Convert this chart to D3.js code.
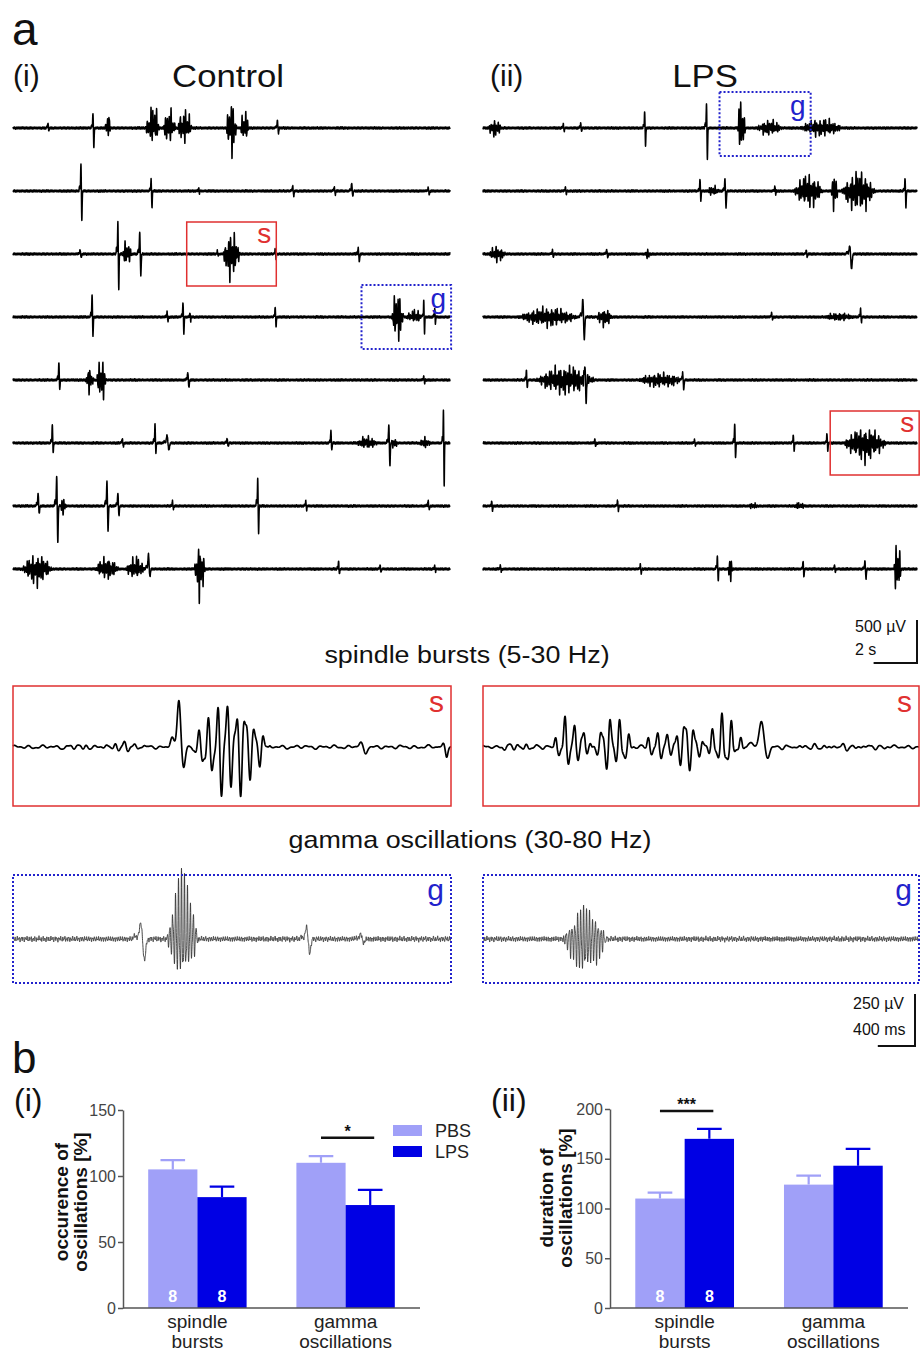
<!DOCTYPE html>
<html>
<head>
<meta charset="utf-8">
<script src="https://cdn.jsdelivr.net/npm/d3@7"></script>
<style>
  body { margin: 0; background: #fff; }
  svg { display: block; }
  text { font-family: "Liberation Sans", Arial, Helvetica, sans-serif; }
</style>
</head>
<body>
<svg id="fig" width="920" height="1351"></svg>
<script>
// ---- panel a: overview traces, one event list per row ----
// event = [time (s), duration (s), peak up (µV), peak down (µV)]
const controlRows = [
  [[1.6, 0.12, 60, 35], [3.66, 0.12, 175, 230], [4.35, 0.3, 230, 90], [6.4, 0.7, 290, 175], [7.15, 0.6, 250, 180], [7.85, 0.7, 270, 160], [10.0, 0.5, 325, 380], [10.6, 0.4, 230, 175], [12.1, 0.15, 90, 60]],
  [[3.11, 0.12, 325, 350], [6.32, 0.12, 140, 200], [8.5, 0.1, 40, 30], [12.8, 0.15, 60, 60], [14.7, 0.15, 50, 40], [15.5, 0.15, 90, 60], [19.0, 0.15, 40, 40]],
  [[3.07, 0.15, 50, 40], [4.8, 0.12, 370, 420], [5.2, 0.5, 150, 150], [5.8, 0.15, 250, 250], [9.35, 0.1, 40, 20], [10.0, 0.8, 255, 335], [12.0, 0.12, 60, 60], [15.8, 0.15, 70, 90]],
  [[3.62, 0.12, 270, 230], [7.05, 0.12, 60, 50], [7.78, 0.12, 175, 200], [8.1, 0.1, 50, 50], [12.0, 0.12, 115, 115], [17.6, 0.6, 310, 310], [18.4, 0.8, 90, 60], [18.8, 0.1, 200, 200], [19.3, 0.1, 100, 80]],
  [[2.1, 0.12, 210, 115], [3.5, 0.4, 180, 150], [4.05, 0.5, 255, 265], [8.0, 0.15, 90, 90], [18.8, 0.12, 50, 40]],
  [[1.8, 0.12, 220, 115], [5.0, 0.15, 50, 40], [6.5, 0.12, 220, 115], [7.05, 0.25, 90, 80], [9.8, 0.15, 50, 40], [14.55, 0.12, 150, 90], [16.2, 1.0, 80, 70], [17.2, 0.15, 210, 265], [17.45, 0.3, 80, 80], [18.85, 0.5, 70, 60], [19.7, 0.1, 395, 510]],
  [[1.15, 0.15, 150, 90], [2.0, 0.15, 350, 430], [2.3, 0.3, 110, 110], [4.3, 0.15, 290, 290], [4.8, 0.15, 150, 115], [7.3, 0.12, 60, 40], [11.2, 0.12, 325, 325], [13.4, 0.12, 60, 50], [19.0, 0.15, 60, 40]],
  [[1.1, 1.4, 175, 195], [4.3, 1.1, 150, 115], [5.6, 0.9, 150, 115], [6.2, 0.2, 175, 90], [8.55, 0.5, 335, 370], [14.9, 0.12, 90, 60], [16.8, 0.12, 50, 40], [19.3, 0.12, 40, 30]]
];
const lpsRows = [
  [[0.55, 0.6, 115, 115], [3.7, 0.12, 50, 40], [4.5, 0.12, 60, 40], [7.45, 0.12, 195, 210], [10.3, 0.12, 290, 370], [11.9, 0.4, 380, 290], [13.2, 1.2, 100, 90], [15.6, 2.0, 115, 100]],
  [[3.8, 0.12, 50, 40], [10.0, 0.12, 140, 115], [10.6, 0.6, 60, 60], [11.15, 0.15, 140, 195], [13.45, 0.12, 60, 40], [15.0, 1.4, 200, 200], [16.2, 0.3, 290, 280], [17.3, 1.6, 230, 260], [19.45, 0.12, 150, 195]],
  [[0.65, 0.8, 95, 95], [3.2, 0.12, 50, 40], [5.7, 0.15, 50, 40], [7.6, 0.3, 60, 60], [14.9, 0.12, 50, 40], [16.9, 0.25, 95, 175]],
  [[3.0, 2.8, 115, 115], [4.6, 0.2, 210, 265], [5.6, 0.8, 100, 110], [13.3, 0.12, 50, 30], [16.4, 1.4, 50, 40], [17.4, 0.12, 95, 60]],
  [[2.0, 0.12, 115, 95], [3.8, 2.8, 170, 175], [4.7, 0.15, 200, 290], [8.2, 2.2, 80, 90], [9.2, 0.15, 95, 115]],
  [[5.15, 0.12, 50, 40], [9.75, 0.12, 40, 30], [11.6, 0.12, 230, 175], [14.3, 0.12, 95, 95], [15.85, 0.12, 115, 95], [17.6, 2.0, 175, 230]],
  [[0.4, 0.12, 60, 60], [6.2, 0.12, 70, 60], [12.45, 0.5, 40, 30], [14.6, 0.6, 40, 30]],
  [[0.8, 0.12, 40, 30], [7.25, 0.12, 60, 60], [10.8, 0.12, 150, 140], [11.4, 0.3, 140, 140], [14.75, 0.12, 95, 95], [16.2, 0.12, 50, 40], [17.6, 0.15, 95, 115], [19.1, 0.35, 350, 350]]
];
// boxes marked on the overview: [column, row, kind, start s, end s]
const markBoxes = [
  [0, 2, 's', 7.95, 12.05],
  [0, 3, 'g', 15.95, 20.05],
  [1, 0, 'g', 10.9, 15.1],
  [1, 5, 's', 16.0, 20.1]
];

// expanded traces (4.7 s windows)
const spindleControl = [[0.7, 0.4, 12, 12], [1.2, 0.5, 25, 20], [1.78, 0.15, 225, 95], [2.33, 0.85, 240, 245], [3.73, 0.15, 20, 30], [4.62, 0.1, 15, 40]];
const spindleLPS = [[0.4, 0.6, 15, 15], [0.95, 0.45, 160, 90], [1.4, 0.45, 170, 110], [1.9, 0.35, 90, 60], [2.2, 0.4, 155, 110], [2.6, 0.45, 160, 90], [3.0, 0.2, 120, 50], [3.8, 1.4, 10, 10]];
const gammaControl = [[1.37, 0.12, 80, 100], [1.82, 0.35, 305, 180], [3.15, 0.1, 62, 72], [3.73, 0.1, 25, 20]];
const gammaLPS = [[1.1, 0.48, 145, 170]];

// ---- panel b: bar charts ----
const categories = ['spindle bursts', 'gamma oscillations'];
const groups = ['PBS', 'LPS'];
const occurencePBS = [105, 110];
const occurencePBSsem = [7, 5];
const occurenceLPS = [84, 78];
const occurenceLPSsem = [8, 11.5];
const durationPBS = [110, 124];
const durationPBSsem = [6, 9];
const durationLPS = [170, 143];
const durationLPSsem = [10, 17];
const nAnimals = ['8', '8'];
const occurenceTicks = [0, 50, 100, 150];
const durationTicks = [0, 50, 100, 150, 200];

const COL = { PBS: '#a0a0f8', LPS: '#0000e4', red: '#e03030', blue: '#2222cc' };
const svg = d3.select('#fig');
svg.append('rect').attr('width', 920).attr('height', 1351).attr('fill', '#fff');

function text(x, y, str, size, o = {}) {
  return svg.append('text')
    .attr('transform', `translate(${x},${y}) scale(${o.sx || 1},1)`)
    .attr('font-size', size)
    .attr('font-weight', o.bold ? 'bold' : null)
    .attr('text-anchor', o.anchor || 'start')
    .attr('fill', o.fill || '#111')
    .text(str);
}

// builds the trace from the event list
function drawTrace(events, o) {
  const xs = d3.scaleLinear().domain([0, o.T]).range([o.x0, o.x1]);
  const ys = d3.scaleLinear().domain([-1, 1]).range([o.y + o.k, o.y - o.k]);
  const s = o.seed;
  const sig = t => {
    let v = o.noise * (0.45 * Math.sin(2 * Math.PI * o.nf * t + s)
      + 0.3 * Math.sin(2 * Math.PI * o.nf * 1.83 * t + 2.1 * s)
      + 0.25 * Math.sin(2 * Math.PI * o.nf * 0.47 * t + 0.7 * s) * Math.sin(2 * Math.PI * 0.37 * t + s));
    for (const [t0, d, up, dn] of events) {
      const tau = t - t0;
      if (d < 0.3) {
        const w = d / 6;
        if (Math.abs(tau) > d) continue;
        v += up * Math.exp(-((tau / w) ** 2)) - dn * Math.exp(-(((tau - 2 * w) / w) ** 2))
          + 0.2 * up * Math.exp(-(((tau + 3 * w) / w) ** 2));
      } else {
        const u = tau / d + 0.5;
        if (u <= 0 || u >= 1) continue;
        const env = Math.sin(Math.PI * u);
        const m = 1 - o.mod + o.mod * Math.pow(Math.abs(Math.sin(2 * Math.PI * 2.3 * t + s)), 2);
        const osc = 0.75 * Math.cos(2 * Math.PI * o.f * t + s) + 0.25 * Math.cos(2 * Math.PI * 1.9 * o.f * t + 0.7);
        v += env * m * osc * (osc > 0 ? up : dn) * 1.15;
      }
    }
    return v;
  };
  const pts = d3.range(0, o.T + o.dt / 2, o.dt).map(t => [t, sig(t)]);
  svg.append('path')
    .attr('d', d3.line().x(d => xs(d[0])).y(d => ys(d[1]))(pts))
    .attr('fill', 'none')
    .attr('stroke', o.stroke)
    .attr('stroke-width', o.sw)
    .attr('stroke-linejoin', 'round');
  return xs;
}

// ---- panel a ----
const T_OVER = 20, K_OVER = 43 / 500;
const overCols = [[13, 450], [483, 917]];
const rowY = d3.range(8).map(i => 128 + 63 * i);
const overScales = [];
[controlRows, lpsRows].forEach((rows, c) => {
  rows.forEach((ev, r) => {
    overScales[c] = drawTrace(ev, {
      x0: overCols[c][0], x1: overCols[c][1], y: rowY[r], T: T_OVER, k: K_OVER,
      f: 12, dt: 0.005, noise: 15, nf: 31, seed: 1 + r * 0.9 + c * 2.3, mod: 0.7,
      stroke: '#000', sw: 1.5
    });
  });
});

markBoxes.forEach(([c, r, kind, t0, t1]) => {
  const xs = overScales[c];
  const top = rowY[r] - (c === 1 && r === 0 ? 36 : 32);
  svg.append('rect')
    .attr('x', xs(t0)).attr('y', top)
    .attr('width', xs(t1) - xs(t0)).attr('height', 64)
    .attr('fill', 'none')
    .attr('stroke', kind === 's' ? COL.red : COL.blue)
    .attr('stroke-width', kind === 's' ? 1.5 : 2)
    .attr('stroke-dasharray', kind === 's' ? null : '2,2');
  text(xs(t1) - 5, top + (kind === 's' ? 21 : 23), kind, 28, { anchor: 'end', fill: kind === 's' ? COL.red : COL.blue });
});

text(12, 45, 'a', 46);
text(13, 86, '(i)', 30);
text(228, 87, 'Control', 31, { anchor: 'middle', sx: 1.12 });
text(490, 86, '(ii)', 30);
text(705, 87, 'LPS', 31, { anchor: 'middle', sx: 1.12 });

// scale bar, overview
{
  const xs = overScales[1];
  const w = xs(2) - xs(0), h = 500 * K_OVER;
  svg.append('path')
    .attr('d', `M917,${663 - h}V663H${917 - w}`)
    .attr('fill', 'none').attr('stroke', '#111').attr('stroke-width', 2);
  text(855, 632, '500 µV', 16);
  text(855, 655, '2 s', 16);
}

text(467, 663, 'spindle bursts (5-30 Hz)', 24, { anchor: 'middle', sx: 1.12 });
text(470, 848, 'gamma oscillations (30-80 Hz)', 24, { anchor: 'middle', sx: 1.12 });

// expanded traces
const T_ZOOM = 4.7, K_ZOOM = 52 / 250;
const insetCols = [[13, 451], [483, 919]];
[spindleControl, spindleLPS].forEach((ev, c) => {
  const [x0, x1] = insetCols[c];
  drawTrace(ev, { x0, x1, y: 747, T: T_ZOOM, k: K_ZOOM, f: 10, dt: 0.002, noise: 11, nf: 7, seed: 0.4 + c, mod: 0.3, stroke: '#000', sw: 1.7 });
  svg.append('rect').attr('x', x0).attr('y', 686).attr('width', x1 - x0).attr('height', 120)
    .attr('fill', 'none').attr('stroke', COL.red).attr('stroke-width', 1.5);
  text(x1 - 7, 712, 's', 30, { anchor: 'end', fill: COL.red });
});
[gammaControl, gammaLPS].forEach((ev, c) => {
  const [x0, x1] = insetCols[c];
  drawTrace(ev, { x0, x1, y: 939, T: T_ZOOM, k: K_ZOOM, f: 32, dt: 0.001, noise: 16, nf: 47, seed: 0.8 + c, mod: 0.2, stroke: '#333', sw: 0.9 });
  svg.append('rect').attr('x', x0).attr('y', 875).attr('width', x1 - x0).attr('height', 108)
    .attr('fill', 'none').attr('stroke', COL.blue).attr('stroke-width', 2).attr('stroke-dasharray', '2,2');
  text(x1 - 7, 900, 'g', 30, { anchor: 'end', fill: COL.blue });
});

// scale bar, expanded traces
{
  const w = 0.4 * (437 / T_ZOOM), h = 250 * K_ZOOM;
  svg.append('path')
    .attr('d', `M915,${1046 - h}V1046H${915 - w}`)
    .attr('fill', 'none').attr('stroke', '#111').attr('stroke-width', 2);
  text(853, 1009, '250 µV', 16);
  text(853, 1035, '400 ms', 16);
}

// ---- panel b ----
text(12, 1073, 'b', 44);
text(14, 1111, '(i)', 32);
text(491, 1111, '(ii)', 32);

function barChart(o) {
  const x = d3.scaleBand().domain(categories).range([o.x0, o.x1]).paddingInner(0.336).paddingOuter(0.17);
  const xg = d3.scaleBand().domain(groups).range([0, x.bandwidth()]);
  const y = d3.scaleLinear().domain([0, o.yMax]).range([1308, o.yTop]);
  const g = svg.append('g');
  const series = { PBS: [o.pbs, o.pbsSem], LPS: [o.lps, o.lpsSem] };

  groups.forEach(grp => {
    const [vals, sems] = series[grp];
    categories.forEach((cat, i) => {
      const bx = x(cat) + xg(grp), bw = xg.bandwidth(), cx = bx + bw / 2;
      g.append('rect').attr('x', bx).attr('y', y(vals[i]))
        .attr('width', bw).attr('height', y(0) - y(vals[i])).attr('fill', COL[grp]);
      g.append('path')
        .attr('d', `M${cx},${y(vals[i])}V${y(vals[i] + sems[i])}M${cx - bw / 4},${y(vals[i] + sems[i])}H${cx + bw / 4}`)
        .attr('stroke', COL[grp]).attr('stroke-width', 2.2).attr('fill', 'none');
      if (i === 0) {
        g.append('text').attr('x', cx).attr('y', 1302).attr('text-anchor', 'middle')
          .attr('font-size', 16).attr('font-weight', 'bold').attr('fill', '#fff').text(nAnimals[groups.indexOf(grp)]);
      }
    });
  });

  const ax = g.append('g').attr('transform', `translate(${o.x0},0)`)
    .call(d3.axisLeft(y).tickValues(o.ticks).tickSize(5).tickSizeOuter(0).tickPadding(2));
  ax.select('.domain').attr('stroke', '#555').attr('stroke-width', 1.5);
  ax.selectAll('.tick line').attr('stroke', '#555').attr('stroke-width', 1.5);
  ax.selectAll('.tick text').attr('font-size', 16).attr('fill', '#444')
    .attr('font-family', '"Liberation Sans", Arial, sans-serif');
  g.append('line').attr('x1', o.x0).attr('x2', o.x1).attr('y1', 1308).attr('y2', 1308)
    .attr('stroke', '#555').attr('stroke-width', 1.5);

  categories.forEach(cat => {
    const [l1, l2] = cat.split(' ');
    const cx = x(cat) + x.bandwidth() / 2;
    text(cx, 1328, l1, 19, { anchor: 'middle', fill: '#222' });
    text(cx, 1348, l2, 19, { anchor: 'middle', fill: '#222' });
  });

  // significance bar
  const sc = o.sig[0];
  const sx0 = x(sc) + xg('PBS') + xg.bandwidth() / 2, sx1 = x(sc) + xg('LPS') + xg.bandwidth() / 2 + 4;
  g.append('line').attr('x1', sx0).attr('x2', sx1).attr('y1', y(o.sig[1])).attr('y2', y(o.sig[1]))
    .attr('stroke', '#111').attr('stroke-width', 2.6);
  text((sx0 + sx1) / 2, y(o.sig[1]) - 1, o.sig[2], 16, { anchor: 'middle', bold: true });

  const yl = svg.append('g').attr('transform', `translate(0,${o.labelY}) rotate(-90)`);
  o.ylabel.forEach((s, i) => {
    yl.append('text').attr('x', 0).attr('y', o.labelX + i * 19).attr('text-anchor', 'middle')
      .attr('font-size', 19).attr('font-weight', 'bold').attr('fill', '#111').text(s);
  });
  return g;
}

barChart({
  x0: 123, x1: 420, yMax: 150, yTop: 1110, ticks: occurenceTicks,
  pbs: occurencePBS, pbsSem: occurencePBSsem, lps: occurenceLPS, lpsSem: occurenceLPSsem,
  sig: ['gamma oscillations', 129, '*'],
  ylabel: ['occurence of', 'oscillations [%]'], labelX: 68, labelY: 1202
});
barChart({
  x0: 610, x1: 908, yMax: 200, yTop: 1109, ticks: durationTicks,
  pbs: durationPBS, pbsSem: durationPBSsem, lps: durationLPS, lpsSem: durationLPSsem,
  sig: ['spindle bursts', 198, '***'],
  ylabel: ['duration of', 'oscillations [%]'], labelX: 553, labelY: 1198
});

// legend
groups.forEach((grp, i) => {
  svg.append('rect').attr('x', 393).attr('y', 1125 + i * 21).attr('width', 29).attr('height', 11).attr('fill', COL[grp]);
  text(435, 1137 + i * 21, grp, 18, { fill: '#222' });
});
</script>
</body>
</html>
